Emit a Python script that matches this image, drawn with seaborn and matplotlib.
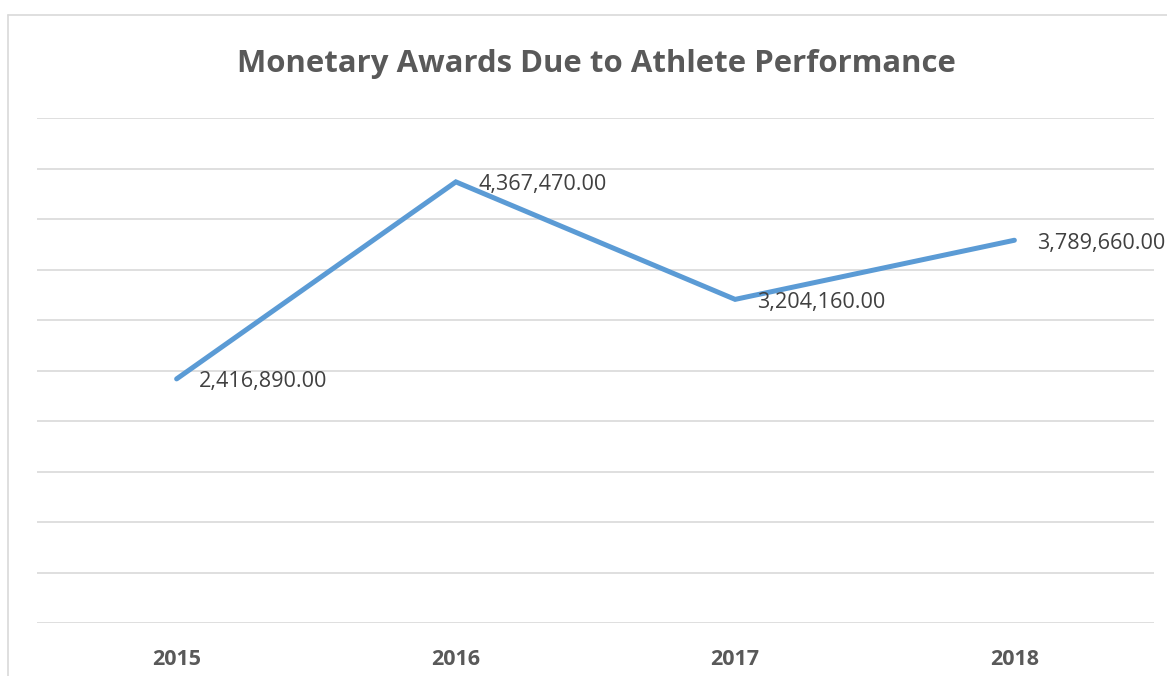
import numpy as np
import pandas as pd
import matplotlib
matplotlib.use("Agg")
import matplotlib.pyplot as plt
import seaborn as sns

# chart data
years = ["2015", "2016", "2017", "2018"]
awards = [2416890.00, 4367470.00, 3204160.00, 3789660.00]

LINE_COLOR = "#5B9BD5"
GRID_COLOR = "#D9D9D9"
TEXT_COLOR = "#595959"
LABEL_COLOR = "#404040"

sns.set_theme(style="white")
plt.rcParams["font.family"] = ["Open Sans", "DejaVu Sans"]

df = pd.DataFrame({"year": years, "award": awards})

fig = plt.figure(figsize=(11.67, 6.76), dpi=100)
ax = fig.add_axes([37 / 1167, 1 - 623 / 676, (1154 - 37) / 1167, (623 - 118) / 676])

sns.lineplot(data=df, x="year", y="award", color=LINE_COLOR, linewidth=3.6,
             sort=False, ax=ax, solid_capstyle="round", solid_joinstyle="miter")

ax.set_xlim(-0.5, len(years) - 0.5)
ax.set_ylim(0, 5000000)
ax.set_yticks(np.arange(0, 5000001, 500000))
ax.yaxis.grid(True, color=GRID_COLOR, linewidth=1.2)
ax.xaxis.grid(False)
ax.tick_params(axis="y", left=False, labelleft=False)
ax.tick_params(axis="x", bottom=False, pad=13)
for lbl in ax.get_xticklabels():
    lbl.set_fontweight("bold")
    lbl.set_color(TEXT_COLOR)
    lbl.set_fontsize(15.5)
for side in ["top", "right", "left", "bottom"]:
    ax.spines[side].set_visible(False)
ax.set_xlabel("")
ax.set_ylabel("")

# data labels, to the right of each point
for i, val in enumerate(awards):
    ax.annotate(f"{val:,.2f}", xy=(i, val), xytext=(16, -2),
                textcoords="offset points", ha="left", va="center",
                fontsize=15.6, color=LABEL_COLOR)

fig.text(596 / 1167, 1 - 64 / 676, "Monetary Awards Due to Athlete Performance",
         ha="center", va="center", fontsize=22.4, fontweight="bold", color=TEXT_COLOR)

# outer chart border (left and top edges visible)
fig.add_artist(plt.Line2D([8 / 1167, 8 / 1167], [0, 1 - 15 / 676], color=GRID_COLOR,
                          linewidth=1.2, transform=fig.transFigure))
fig.add_artist(plt.Line2D([8 / 1167, 1], [1 - 15 / 676, 1 - 15 / 676], color=GRID_COLOR,
                          linewidth=1.2, transform=fig.transFigure))

plt.savefig("out.png", dpi=100)
